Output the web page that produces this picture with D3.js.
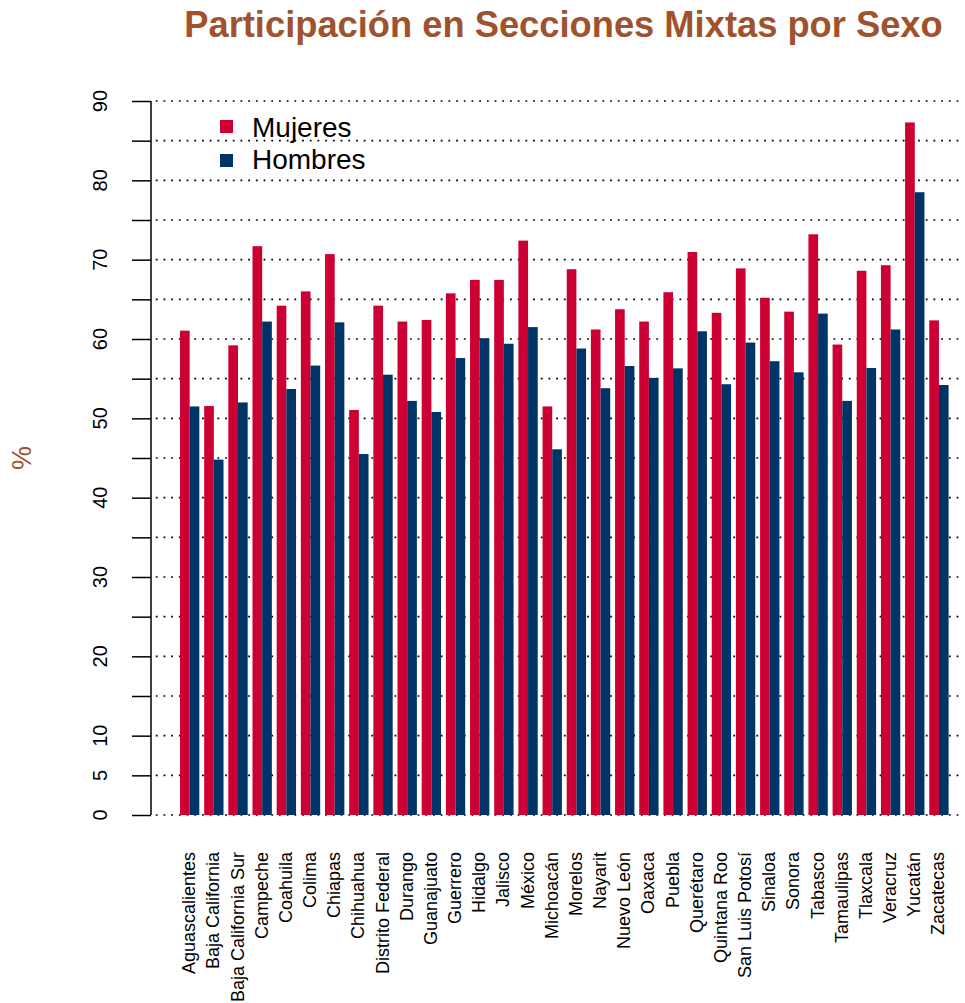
<!DOCTYPE html>
<html><head><meta charset="utf-8">
<script src="https://cdn.jsdelivr.net/npm/d3@7"></script>
<style>body{margin:0;background:#fff;} svg{display:block;font-family:"Liberation Sans",Arial,Helvetica,sans-serif;}</style>
</head><body>
<script>
const states = ["Aguascalientes","Baja California","Baja California Sur","Campeche","Coahuila","Colima","Chiapas","Chihuahua","Distrito Federal","Durango","Guanajuato","Guerrero","Hidalgo","Jalisco","México","Michoacán","Morelos","Nayarit","Nuevo León","Oaxaca","Puebla","Querétaro","Quintana Roo","San Luis Potosí","Sinaloa","Sonora","Tabasco","Tamaulipas","Tlaxcala","Veracruz","Yucatán","Zacatecas"];
const mujeres = [61.05,51.55,59.2,71.7,64.2,66.0,70.7,51.05,64.2,62.2,62.4,65.75,67.45,67.45,72.4,51.5,68.8,61.2,63.75,62.2,65.9,70.97,63.3,68.9,65.2,63.45,73.2,59.3,68.6,69.3,87.3,62.35];
const hombres = [51.5,44.8,52.0,62.2,53.7,56.65,62.1,45.5,55.5,52.2,50.8,57.6,60.1,59.4,61.5,46.1,58.8,53.8,56.6,55.1,56.3,60.97,54.3,59.55,57.2,55.8,63.2,52.2,56.35,61.2,78.5,54.2];
const series = ["Mujeres","Hombres"];
const colors = ["#CC0033","#003366"];
const yTicks = [0,5,10,15,20,25,30,35,40,45,50,55,60,65,70,75,80,85,90];
const yLabels = [0,5,10,20,30,40,50,60,70,80,90];
const title = "Participación en Secciones Mixtas por Sexo";
const yTitle = "%";

const W = 965, H = 1003;
const svg = d3.select("body").append("svg").attr("width", W).attr("height", H);

const y = d3.scaleLinear().domain([0, 90]).range([815, 101]);
const unit = 24.17 / 2.5;
const x0 = 180 - 0.5 * unit;
const x = d3.scaleLinear().domain([0, 80]).range([x0, x0 + 80 * unit]);

// gridlines
svg.append("g").selectAll("line").data(yTicks).join("line")
  .attr("x1", 155.8).attr("x2", 962)
  .attr("y1", d => y(d)).attr("y2", d => y(d))
  .attr("stroke", "#000").attr("stroke-width", 1.6)
  .attr("stroke-dasharray", "1.8,5.9");

// bars
const data = [];
states.forEach((s, i) => {
  data.push({i, k: 0, v: mujeres[i]});
  data.push({i, k: 1, v: hombres[i]});
});
svg.append("g").selectAll("rect").data(data).join("rect")
  .attr("x", d => x(0.5 + 2.5 * d.i + d.k))
  .attr("width", x(1) - x(0))
  .attr("y", d => y(d.v))
  .attr("height", d => y(0) - y(d.v))
  .attr("fill", d => colors[d.k]);

// y axis
const yAxis = d3.axisLeft(y).tickValues(yTicks).tickSize(19).tickFormat("");
const ga = svg.append("g").attr("transform", "translate(151,0)").call(yAxis);
ga.select(".domain").attr("stroke", "#000").attr("stroke-width", 1.5).attr("d", `M0,${y(0)}V${y(90)}`);
ga.selectAll(".tick line").attr("stroke", "#000").attr("stroke-width", 1.5);

svg.append("g").selectAll("text").data(yLabels).join("text")
  .attr("transform", d => `translate(107,${y(d)}) rotate(-90)`)
  .attr("text-anchor", "middle")
  .attr("font-size", 20).attr("fill", "#000")
  .text(d => d);

// x labels
svg.append("g").selectAll("text").data(states).join("text")
  .attr("transform", (d, i) => `translate(${x(0.5 + 2.5 * i + 1) + 5.5},852) rotate(-90)`)
  .attr("text-anchor", "end")
  .attr("font-size", 18).attr("fill", "#000")
  .text(d => d);

// title
svg.append("text").attr("x", 563.5).attr("y", 37)
  .attr("text-anchor", "middle").attr("font-size", 36.3).attr("font-weight", "bold")
  .attr("fill", "#A0522D").text(title);

// y title
svg.append("text").attr("transform", `translate(31,458) rotate(-90)`)
  .attr("text-anchor", "middle").attr("font-size", 27).attr("fill", "#A0522D").text(yTitle);

// legend
const lg = svg.append("g");
series.forEach((s, k) => {
  lg.append("rect").attr("x", 220).attr("y", 120 + k * 34).attr("width", 13).attr("height", 13).attr("fill", colors[k]);
  lg.append("text").attr("x", 252).attr("y", 137 + k * 31.5).attr("font-size", 28).attr("fill", "#000").text(s);
});
</script>
</body></html>
